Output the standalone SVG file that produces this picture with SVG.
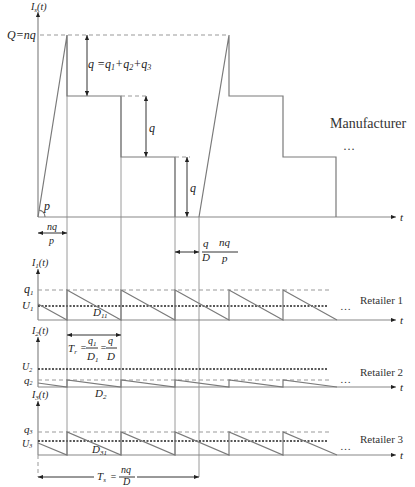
<svg xmlns="http://www.w3.org/2000/svg" width="415" height="487" viewBox="0 0 415 487">
<defs>
<marker id="ah" viewBox="0 0 6 6" refX="6" refY="3" markerWidth="5" markerHeight="5" orient="auto-start-reverse" markerUnits="userSpaceOnUse">
<path d="M0,0.5 L6,3 L0,5.5 z" fill="#222"/>
</marker>
<style>
.ln{fill:none;stroke:#7a7a7a;stroke-width:1.2}
.ax{fill:none;stroke:#888;stroke-width:1.2}
.guide{fill:none;stroke:#9a9a9a;stroke-width:1}
.dash{fill:none;stroke:#999;stroke-width:1;stroke-dasharray:4,3}
.dot{fill:none;stroke:#222;stroke-width:1.6;stroke-dasharray:2,1.5}
.dim{fill:none;stroke:#333;stroke-width:1}
.m{font-family:"Liberation Serif",serif;font-style:italic;fill:#222}
.r{font-family:"Liberation Serif",serif;fill:#333}
</style>
</defs>
<rect width="415" height="487" fill="#fff"/>

<g id="connectors">
<line class="guide" x1="67" y1="35" x2="67" y2="455"/>
<line class="guide" x1="121" y1="96" x2="121" y2="455"/>
<line class="guide" x1="175" y1="157" x2="175" y2="455"/>
<line class="guide" x1="199" y1="217" x2="199" y2="477"/>
<line class="dash" x1="38" y1="455" x2="38" y2="477" stroke-dasharray="2,2"/>
<line class="dim" x1="87" y1="35" x2="87" y2="96" marker-start="url(#ah)" marker-end="url(#ah)"/>
<line class="dim" x1="146" y1="96" x2="146" y2="157" marker-start="url(#ah)" marker-end="url(#ah)"/>
<line class="dim" x1="187" y1="157" x2="187" y2="217" marker-start="url(#ah)" marker-end="url(#ah)"/>
<line class="dim" x1="38" y1="233" x2="67" y2="233" marker-start="url(#ah)" marker-end="url(#ah)"/>
<line class="dim" x1="175" y1="252" x2="199" y2="252" marker-start="url(#ah)" marker-end="url(#ah)"/>
<line class="dim" x1="67" y1="335" x2="121" y2="335" marker-start="url(#ah)" marker-end="url(#ah)"/>
<line class="dim" x1="38" y1="477" x2="94" y2="477" marker-start="url(#ah)"/>
<line class="dim" x1="137" y1="477" x2="199" y2="477" marker-end="url(#ah)"/>
</g>

<g id="manufacturer">
<line class="ax" x1="38" y1="217" x2="38" y2="12" marker-end="url(#ah)"/>
<line class="ax" x1="38" y1="217" x2="396" y2="217" marker-end="url(#ah)"/>
<text class="m" x="31" y="10" font-size="10">I<tspan font-size="7" dy="2">s</tspan><tspan dy="-2">(t)</tspan></text>
<text class="m" x="400" y="221" font-size="11">t</text>
<line class="dash" x1="40" y1="35" x2="229" y2="35"/>
<text class="m" x="7" y="39" font-size="12">Q=nq</text>
<polyline class="ln" points="38,217 67,35 67,96 121,96 121,157 175,157 175,217"/>
<polyline class="ln" points="199,217 229,35 229,96 283,96 283,157 336,157 336,217"/>
<line class="dash" x1="121" y1="96" x2="147" y2="96"/>
<line class="dash" x1="175" y1="157" x2="190" y2="157"/>
<text class="m" x="88" y="68" font-size="12">q  =q<tspan font-size="8" dy="2">1</tspan><tspan dy="-2">+q</tspan><tspan font-size="8" dy="2">2</tspan><tspan dy="-2">+q</tspan><tspan font-size="8" dy="2">3</tspan></text>
<text class="m" x="149" y="132" font-size="12">q</text>
<text class="m" x="190" y="192" font-size="12">q</text>
<path class="ln" d="M45,217 A7,7 0 0 0 39.1,210.1" stroke-width="0.8"/>
<text class="m" x="44" y="210" font-size="12">p</text>
<text class="m" x="47" y="230" font-size="10">nq</text>
<text class="m" x="49" y="244" font-size="10">p</text>
<text class="m" x="203" y="247" font-size="11">q</text>
<text class="m" x="202" y="261" font-size="11">D</text>
<line class="dim" x1="202" y1="252" x2="238" y2="252" stroke="#999"/>
<text class="m" x="219" y="246" font-size="11">nq</text>
<text class="m" x="222" y="262" font-size="11">p</text>
<text class="r" x="330" y="128" font-size="14">Manufacturer</text>
<text class="r" x="343" y="150" font-size="12">…</text>
</g>

<g id="retailer1">
<line class="ax" x1="38" y1="320" x2="38" y2="269" marker-end="url(#ah)"/>
<line class="ax" x1="38" y1="320" x2="396" y2="320" marker-end="url(#ah)"/>
<text class="m" x="32" y="266" font-size="10">I<tspan font-size="7" dy="2">1</tspan><tspan dy="-2">(t)</tspan></text>
<text class="m" x="400" y="324" font-size="11">t</text>
<line class="dash" x1="38" y1="290" x2="330" y2="290"/>
<line class="dot" x1="38" y1="306" x2="328" y2="306"/>
<text class="m" x="24" y="293" font-size="12">q<tspan font-size="7" dy="2">1</tspan></text>
<text class="m" x="22" y="309" font-size="11">U<tspan font-size="7" dy="2">1</tspan></text>
<polyline class="ln" points="38,304 67,320 67,290 121,320 121,290 175,320 175,290 229,320 229,290 283,320 283,290 337,320"/>
<text class="m" x="93" y="316" font-size="11">D<tspan font-size="7" dy="2">11</tspan></text>
<text class="r" x="360" y="304" font-size="11">Retailer 1</text>
<text class="r" x="340" y="310" font-size="11">…</text>
<text class="m" x="68" y="352" font-size="11">T<tspan font-size="7" dy="2">r</tspan></text>
<text class="m" x="80" y="351" font-size="10">=</text>
<text class="m" x="88" y="344" font-size="10">q<tspan font-size="7" dy="2">1</tspan></text>
<line class="dim" x1="86" y1="348" x2="98" y2="348" stroke="#999"/>
<text class="m" x="87" y="360" font-size="11">D<tspan font-size="7" dy="2">1</tspan></text>
<text class="m" x="100" y="351" font-size="10">=</text>
<text class="m" x="108" y="344" font-size="10">q</text>
<line class="dim" x1="106" y1="348" x2="117" y2="348" stroke="#999"/>
<text class="m" x="107" y="360" font-size="11">D</text>
</g>

<g id="retailer2">
<line class="ax" x1="38" y1="387" x2="38" y2="337" marker-end="url(#ah)"/>
<line class="ax" x1="38" y1="387" x2="396" y2="387" marker-end="url(#ah)"/>
<text class="m" x="32" y="334" font-size="10">I<tspan font-size="7" dy="2">2</tspan><tspan dy="-2">(t)</tspan></text>
<text class="m" x="400" y="391" font-size="11">t</text>
<line class="dot" x1="38" y1="369" x2="328" y2="369"/>
<line class="dash" x1="38" y1="380" x2="330" y2="380"/>
<text class="m" x="22" y="370" font-size="10">U<tspan font-size="6" dy="2">2</tspan></text>
<text class="m" x="24" y="384" font-size="11">q<tspan font-size="6" dy="1">2</tspan></text>
<polyline class="ln" points="38,383 67,387 67,380 121,387 121,380 175,387 175,380 229,387 229,380 283,387 283,380 337,387"/>
<text class="m" x="95" y="397" font-size="11">D<tspan font-size="7" dy="2">2</tspan></text>
<text class="r" x="360" y="376" font-size="11">Retailer 2</text>
<text class="r" x="340" y="383" font-size="11">…</text>
</g>

<g id="retailer3">
<line class="ax" x1="38" y1="455" x2="38" y2="401" marker-end="url(#ah)"/>
<line class="ax" x1="38" y1="455" x2="396" y2="455" marker-end="url(#ah)"/>
<text class="m" x="32" y="398" font-size="10">I<tspan font-size="7" dy="2">3</tspan><tspan dy="-2">(t)</tspan></text>
<text class="m" x="400" y="459" font-size="11">t</text>
<line class="dash" x1="38" y1="432" x2="330" y2="432"/>
<line class="dot" x1="38" y1="441" x2="328" y2="441"/>
<text class="m" x="24" y="433" font-size="11">q<tspan font-size="6" dy="1">3</tspan></text>
<text class="m" x="22" y="447" font-size="10">U<tspan font-size="6" dy="1">3</tspan></text>
<polyline class="ln" points="38,443 67,455 67,432 121,455 121,432 175,455 175,432 229,455 229,432 283,455 283,432 337,455"/>
<text class="m" x="92" y="453" font-size="11">D<tspan font-size="7" dy="2">31</tspan></text>
<text class="r" x="360" y="443" font-size="11">Retailer 3</text>
<text class="r" x="340" y="450" font-size="11">…</text>
<text class="m" x="97" y="480" font-size="11">T<tspan font-size="7" dy="2">s</tspan></text>
<text class="m" x="110" y="480" font-size="10">=</text>
<text class="m" x="121" y="473" font-size="10">nq</text>
<line class="dim" x1="119" y1="477" x2="135" y2="477" stroke="#999"/>
<text class="m" x="123" y="485" font-size="10">D</text>
</g>
</svg>
